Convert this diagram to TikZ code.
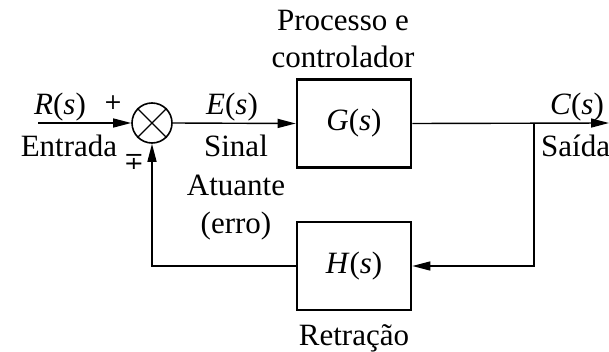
\documentclass[tikz,border=0pt]{standalone}
\usepackage{fontspec}
\setmainfont{Liberation Serif}
\newfontfamily\symfont{DejaVu Serif}
\usetikzlibrary{arrows.meta,positioning}

\newcommand{\sig}[1]{\textit{#1}(\textit{s})}

\begin{document}
\begin{tikzpicture}[
    x=1pt, y=1pt,
    font=\fontsize{31}{36}\selectfont,
    blk/.style={draw=black, line width=2.6pt, minimum width=114pt, minimum height=88pt, inner sep=0pt},
    sumnode/.style={draw=black, line width=1.6pt, circle, minimum size=40pt, inner sep=0pt},
    lbl/.style={inner sep=0pt, anchor=base},
    sgn/.style={inner sep=0pt, font=\symfont\fontsize{#1}{#1}\selectfont},
    arr/.style={-{Triangle[length=18pt, width=9pt]}, line width=1.4pt}
  ]
    \useasboundingbox (0,0) rectangle (609,351);
    % blocos
    \node[sumnode] (sum) at (152,228) {};
    \draw[line width=1.4pt] (sum.north west) -- (sum.south east);
    \draw[line width=1.4pt] (sum.north east) -- (sum.south west);
    \node[blk] (G) at (354,227.5) {\sig{G}};
    \node[blk] (H) at (354,85) {\sig{H}};
    \coordinate (in) at (38,228);
    \coordinate (branch) at (534,228);
    \coordinate (out) at (609,228);
    % ligacoes
    \draw[arr] (in) -- (sum.west);
    \draw[arr] (sum.east) -- (G.west);
    \draw[arr] (G.east) -- (out);
    \draw[arr] (branch) |- (H.east);
    \draw[arr] (H.west) -| (sum.south);
    % rotulos
    \node[lbl] (rlab) at (60,236) {\sig{R}};
    \node[sgn=22] (plus) at (113,248) {+};
    \node[lbl] (entrada) at (69,194) {Entrada};
    \node[sgn=24] (mp) at (134,189) {∓};
    \node[lbl] (elab) at (232,236) {\sig{E}};
    \node[lbl] (sinal) at (236,194) {Sinal};
    \node[lbl] (atuante) at (236,156) {Atuante};
    \node[lbl] (erro) at (236,118) {(erro)};
    \node[lbl] (proc) at (343,320) {Processo e};
    \node[lbl] (ctrl) at (343,283) {controlador};
    \node[lbl] (clab) at (577,236) {\sig{C}};
    \node[lbl, anchor=base west] (saida) at (541,194) {Saída};
    \node[lbl] (retr) at (354,6) {Retração};
\end{tikzpicture}
\end{document}
